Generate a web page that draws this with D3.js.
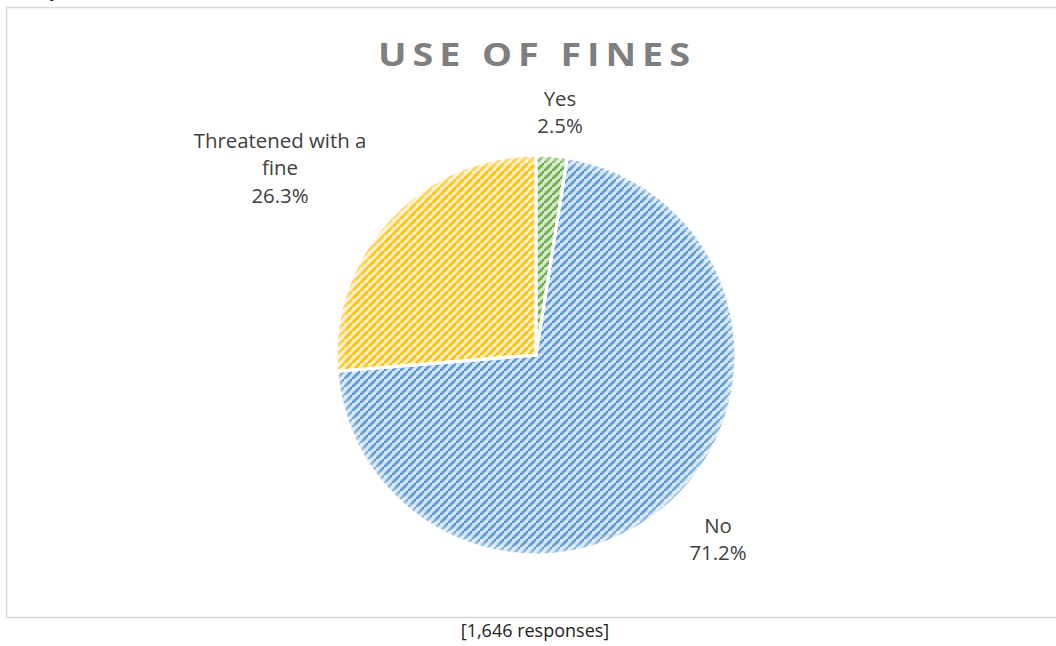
<!DOCTYPE html>
<html>
<head>
<meta charset="utf-8">
<script src="https://cdn.jsdelivr.net/npm/d3@7"></script>
<style>
  html, body { margin: 0; padding: 0; background: #fff; }
  svg { display: block; }
</style>
</head>
<body>
<svg id="chart" width="1056" height="646"></svg>
<script>
// ---- data ----
const categories = ["Yes", "No", "Threatened with a fine"];
const values = [2.5, 71.2, 26.3];
const labelLines = [["Yes", "2.5%"], ["No", "71.2%"], ["Threatened with a", "fine", "26.3%"]];
const title = "USE OF FINES";
const footnote = "[1,646 responses]";

// ---- styles ----
const dotColors = ["#6aab45", "#5595d2", "#ffbd00"];
const bgColors  = ["#d9ead0", "#d6e6f5", "#ffefc2"];

const svg = d3.select("#chart");
const W = 1056, H = 646;
svg.append("rect").attr("width", W).attr("height", H).attr("fill", "#fff");

// fragment of text cut at the top
svg.append("text").attr("x", 50).attr("y", -4)
  .attr("font-family", "Open Sans").attr("font-size", 20).attr("fill", "#111").text("y");

// chart border
svg.append("rect").attr("x", 6.5).attr("y", 7.5).attr("width", 1070).attr("height", 610)
  .attr("fill", "none").attr("stroke", "#d9d9d9").attr("stroke-width", 1.5);

const defs = svg.append("defs");
categories.forEach((c, i) => {
  const p = defs.append("pattern").attr("id", "pat" + i)
    .attr("patternUnits", "userSpaceOnUse").attr("width", 8).attr("height", 8);
  p.append("rect").attr("width", 8).attr("height", 8).attr("fill", bgColors[i]);
  p.append("path").attr("d", "M-1,9 L9,-1 M-1,1 L1,-1 M7,9 L9,7")
    .attr("stroke", dotColors[i]).attr("stroke-width", 2).attr("stroke-opacity", 0.45);
  [[0,6],[2,4],[4,2],[6,0]].forEach(([x, y]) => {
    p.append("rect").attr("x", x - 0.2).attr("y", y - 0.2).attr("width", 2.7).attr("height", 2.7)
      .attr("fill", dotColors[i]);
  });
});
const rg = defs.append("radialGradient").attr("id", "edge")
  .attr("gradientUnits", "userSpaceOnUse").attr("cx", 0).attr("cy", 0).attr("r", 200);
rg.append("stop").attr("offset", "0.95").attr("stop-color", "#fff").attr("stop-opacity", 0);
rg.append("stop").attr("offset", "1").attr("stop-color", "#fff").attr("stop-opacity", 0.5);

const cx = 536, cy = 355, R = 200;
const g = svg.append("g").attr("transform", `translate(${cx},${cy})`);
const pie = d3.pie().sort(null).value(d => d)(values);
const arc = d3.arc().innerRadius(0).outerRadius(R);

g.selectAll("path.slice").data(pie).join("path").attr("class", "slice")
  .attr("d", arc).attr("fill", (d, i) => `url(#pat${i})`);
g.selectAll("path.edge").data(pie).join("path").attr("class", "edge")
  .attr("d", arc).attr("fill", "url(#edge)");
g.selectAll("path.sep").data(pie).join("path").attr("class", "sep")
  .attr("d", arc).attr("fill", "none").attr("stroke", "#fff").attr("stroke-width", 3)
  .attr("stroke-linejoin", "miter");

// labels: first-line baseline offsets from the pie centre (layout)
const labelAnchors = [[24, -249], [182, 178], [-256, -207]];
const lineH = 27.3;
labelLines.forEach((lines, i) => {
  const [dx, dy] = labelAnchors[i];
  const t = g.append("text").attr("text-anchor", "middle")
    .attr("font-family", "Open Sans").attr("font-size", 20.4).attr("fill", "#404040");
  lines.forEach((ln, k) => {
    t.append("tspan").attr("x", dx).attr("y", dy + k * lineH).text(ln);
  });
});

// title (wide bold caps, letter-spaced to span 378..690)
const sx = 1.18, targetW = 312, titleCx = 534;
const tg = svg.append("g").attr("transform", `translate(${titleCx - targetW / 2},66) scale(${sx},1)`);
const tt = tg.append("text").attr("font-family", "Open Sans").attr("font-weight", "bold")
  .attr("font-size", 32).attr("fill", "#7f7f7f").attr("x", 0).attr("y", 0).text(title);
const w0 = tt.node().getComputedTextLength();
tt.attr("letter-spacing", (targetW / sx - w0) / (title.length - 1));

// footnote
svg.append("text").attr("x", 535).attr("y", 637).attr("text-anchor", "middle")
  .attr("font-family", "Open Sans").attr("font-size", 18).attr("fill", "#222").text(footnote);
</script>
</body>
</html>
